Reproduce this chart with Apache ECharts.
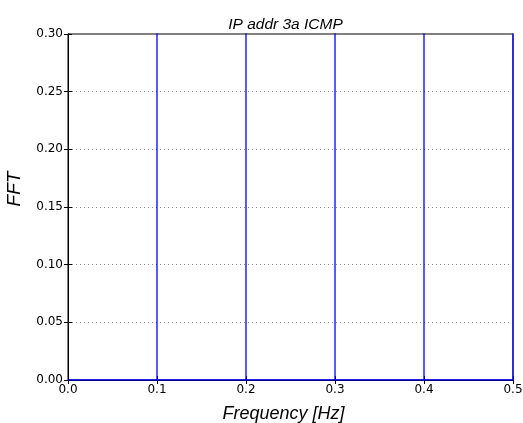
<!DOCTYPE html>
<html><head><meta charset="utf-8">
<script src="https://cdn.jsdelivr.net/npm/echarts@6/dist/echarts.min.js"></script>
<style>html,body{margin:0;padding:0;background:#fff}#c{width:523px;height:423px}</style>
</head><body><div id="c"></div>
<script>
var titleText = "IP addr 3a ICMP";
var xName = "Frequency [Hz]";
var yName = "FFT";
var freq = [0.0, 0.1, 0.1, 0.1, 0.2, 0.2, 0.2, 0.3, 0.3, 0.3, 0.4, 0.4, 0.4, 0.5, 0.5];
var fft  = [0.0, 0.0, 1.0, 0.0, 0.0, 1.0, 0.0, 0.0, 1.0, 0.0, 0.0, 1.0, 0.0, 0.0, 1.0];
var xTicks = [0.0, 0.1, 0.2, 0.3, 0.4, 0.5];
var yTicks = [0.00, 0.05, 0.10, 0.15, 0.20, 0.25, 0.30];

var pts = freq.map(function(f, i){ return [f, fft[i]]; });
var font = "DejaVu Sans";
var sans = "Liberation Sans";
var chart = echarts.init(document.getElementById('c'), null, {renderer:'canvas'});
var tickStyle = {show:true, inside:true, length:4, lineStyle:{color:'#000', width:1}};
chart.setOption({
  animation:false,
  backgroundColor:'#fff',
  title:{text:titleText, left:280.5, top:12, textAlign:'center',
    textStyle:{fontFamily:sans, fontSize:15.5, fontStyle:'italic', fontWeight:'normal', color:'#000'}},
  grid:{left:68, right:10, top:34, bottom:43, containLabel:false, outerBoundsMode:'none',
    show:true, borderColor:'#000', borderWidth:1, backgroundColor:'#fff'},
  xAxis:[{type:'value', min:0, max:0.5, interval:0.1,
    name:xName, nameLocation:'middle', nameGap:25,
    nameTextStyle:{fontFamily:sans, fontSize:18, fontStyle:'italic', color:'#000', padding:[0,14,0,0]},
    axisLine:{show:true, lineStyle:{color:'#000'}}, axisTick:tickStyle,
    axisLabel:{fontFamily:font, fontSize:12, color:'#000', margin:4,
      formatter:function(v){ return v.toFixed(1); }},
    splitLine:{show:false}},
   {type:'value', position:'top', min:0, max:0.5, interval:0.1,
    axisLine:{show:true, lineStyle:{color:'#000'}}, axisTick:tickStyle, axisLabel:{show:false}, splitLine:{show:false}}],
  yAxis:[{type:'value', min:0, max:0.3, interval:0.05,
    name:yName, nameLocation:'middle', nameGap:44, nameRotate:90,
    nameTextStyle:{fontFamily:sans, fontSize:19, fontStyle:'italic', color:'#000', padding:[0,0,0,36]},
    axisLine:{show:true, lineStyle:{color:'#000'}}, axisTick:tickStyle,
    axisLabel:{fontFamily:font, fontSize:12, color:'#000', margin:5,
      formatter:function(v){ return v.toFixed(2); }},
    splitLine:{show:true, lineStyle:{color:'#888', type:[1,3], width:1}}},
   {type:'value', position:'right', min:0, max:0.3, interval:0.05,
    axisLine:{show:true, lineStyle:{color:'#000'}}, axisTick:tickStyle, axisLabel:{show:false}, splitLine:{show:false}}],
  series:[{type:'line', data:pts, xAxisIndex:0, yAxisIndex:0, showSymbol:false, symbol:'none',
    clip:true, lineStyle:{color:'#0000ff', width:1.3}, z:5}]
});
</script></body></html>
